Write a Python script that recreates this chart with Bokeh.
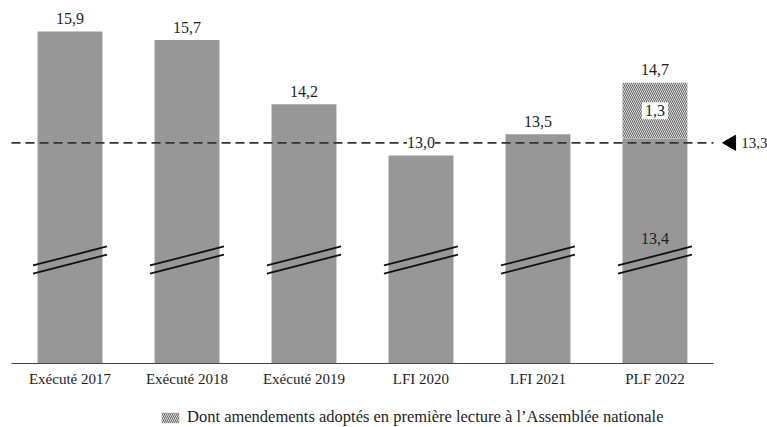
import numpy as np
from bokeh.plotting import figure
from bokeh.models import (Range1d, ColumnDataSource, LabelSet, Label, Legend,
                          LegendItem)
from bokeh.embed import file_html
from bokeh.resources import INLINE

# --- data -----------------------------------------------------------------
categories = ["Exécuté 2017", "Exécuté 2018", "Exécuté 2019",
              "LFI 2020", "LFI 2021", "PLF 2022"]
totals = [15.9, 15.7, 14.2, 13.0, 13.5, 14.7]
total_labels = ["15,9", "15,7", "14,2", "13,0", "13,5", "14,7"]
plf_2022_base = 13.4
plf_2022_base_label = "13,4"
plf_2022_amendments = 1.3
plf_2022_amendments_label = "1,3"
reference_level = 13.3
reference_label = "13,3"
legend_text = "Dont amendements adoptés en première lecture à l\u2019Assemblée nationale"

# --- derived columns ------------------------------------------------------
idx = list(range(len(categories)))
solid_tops = totals[:-1] + [plf_2022_base]

FONT = "Liberation Serif"
BAR_GRAY = "#979797"
TEXT = "#1e1e1e"

# truncated value axis: bars start at AXIS_FLOOR (the break marks show the cut)
AXIS_FLOOR = 8.143
Y_START, Y_END = 6.648, 16.624

p = figure(width=767, height=427, output_backend="svg", toolbar_location=None,
           x_range=Range1d(-0.594, 5.962), y_range=Range1d(Y_START, Y_END),
           x_axis_location=None, y_axis_location=None,
           min_border=0)
p.outline_line_color = None
p.xgrid.visible = False
p.ygrid.visible = False
p.background_fill_color = "white"
p.border_fill_color = "white"

# bars
solid_src = ColumnDataSource(dict(x=idx, top=solid_tops))
p.vbar(x="x", top="top", bottom=AXIS_FLOOR, width=0.555, source=solid_src,
       fill_color=BAR_GRAY, line_color=None)

hatch_src = ColumnDataSource(dict(x=[idx[-1]], bottom=[plf_2022_base],
                                  top=[plf_2022_base + plf_2022_amendments]))
hatched = p.vbar(x="x", top="top", bottom="bottom", width=0.555, source=hatch_src,
                 fill_color="white", line_color=None,
                 hatch_pattern="\\", hatch_color="#626262",
                 hatch_scale=4.0, hatch_weight=1.1)

# category baseline and names
p.segment(x0=[-0.5], x1=[len(categories) - 0.5], y0=[AXIS_FLOOR], y1=[AXIS_FLOOR],
          line_color="#444444", line_width=1.2)
cat_src = ColumnDataSource(dict(x=idx, y=[AXIS_FLOOR] * len(idx), t=categories))
p.add_layout(LabelSet(x="x", y="y", text="t", source=cat_src, y_offset=-15,
                      text_align="center", text_baseline="middle",
                      text_font=FONT, text_font_size="15px", text_color=TEXT))

# reference level: dashed line and marker
p.segment(x0=[-0.5], x1=[len(categories) - 0.5],
          y0=[reference_level], y1=[reference_level],
          line_color="#333333", line_width=1.8, line_dash="9 5")
p.scatter(x=[5.652], y=[reference_level], marker="triangle", size=15,
          angle=np.pi / 2, fill_color="black", line_color="black")
p.add_layout(Label(x=5.652, y=reference_level, x_offset=10, text=reference_label,
                   text_align="left", text_baseline="middle",
                   text_font=FONT, text_font_size="15px", text_color=TEXT))

# axis-break marks on every bar
BREAK_LEVEL, HALF_W, HALF_RISE, GAP = 10.56, 0.316, 0.222, 0.095
for off in (-GAP, GAP):
    p.segment(x0=[i - HALF_W for i in idx], x1=[i + HALF_W for i in idx],
              y0=[BREAK_LEVEL + off - HALF_RISE] * len(idx),
              y1=[BREAK_LEVEL + off + HALF_RISE] * len(idx),
              line_color="#111111", line_width=1.8)

# value labels
lab_src = ColumnDataSource(dict(x=idx, y=totals, t=total_labels))
p.add_layout(LabelSet(x="x", y="y", text="t", source=lab_src, y_offset=13,
                      text_align="center", text_baseline="middle",
                      text_font=FONT, text_font_size="16px", text_color=TEXT,
                      background_fill_color="white"))
p.add_layout(Label(x=idx[-1], y=plf_2022_base + plf_2022_amendments / 2,
                   text=plf_2022_amendments_label, text_align="center",
                   text_baseline="middle", text_font=FONT, text_font_size="16px",
                   text_color=TEXT, background_fill_color="white", padding=3))
p.add_layout(Label(x=idx[-1], y=BREAK_LEVEL, y_offset=22,
                   text=plf_2022_base_label, text_align="center",
                   text_baseline="middle", text_font=FONT, text_font_size="16px",
                   text_color=TEXT))

# legend for the hatched part
legend = Legend(items=[LegendItem(label=legend_text, renderers=[hatched])],
                location=(159, 0), orientation="horizontal",
                glyph_width=22, glyph_height=13, label_standoff=6,
                padding=0, margin=0, spacing=0, border_line_color=None,
                background_fill_alpha=0, label_text_font=FONT,
                label_text_font_size="16.5px", label_text_color=TEXT,
                label_height=14)
p.add_layout(legend, "center")

open("out.html", "w").write(file_html(p, INLINE))
